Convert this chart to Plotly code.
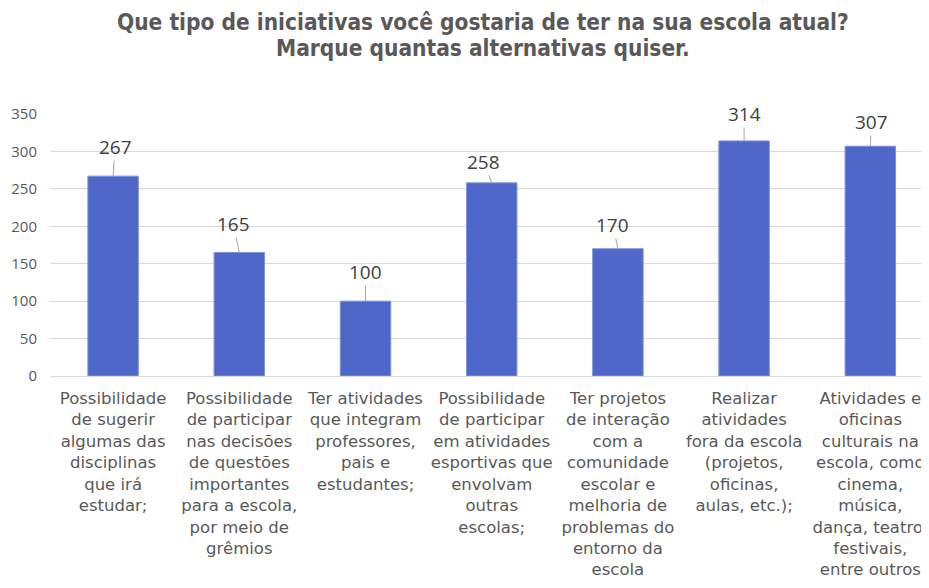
import plotly.graph_objects as go

categories = [
    "Possibilidade<br>de sugerir<br>algumas das<br>disciplinas<br>que irá<br>estudar;",
    "Possibilidade<br>de participar<br>nas decisões<br>de questões<br>importantes<br>para a escola,<br>por meio de<br>grêmios",
    "Ter atividades<br>que integram<br>professores,<br>pais e<br>estudantes;",
    "Possibilidade<br>de participar<br>em atividades<br>esportivas que<br>envolvam<br>outras<br>escolas;",
    "Ter projetos<br>de interação<br>com a<br>comunidade<br>escolar e<br>melhoria de<br>problemas do<br>entorno da<br>escola",
    "Realizar<br>atividades<br>fora da escola<br>(projetos,<br>oficinas,<br>aulas, etc.);",
    "Atividades e<br>oficinas<br>culturais na<br>escola, como<br>cinema,<br>música,<br>dança, teatro,<br>festivais,<br>entre outros",
]
values = [267, 165, 100, 258, 170, 314, 307]
y_ticks = [0, 50, 100, 150, 200, 250, 300, 350]
title_lines = ["Que tipo de iniciativas você gostaria de ter na sua escola atual?",
               "Marque quantas alternativas quiser."]

# label offsets (pixels) for leader-line callouts
label_dx = [2, -6, 0, -8, -5, 0, 1]
label_dy = [-29, -28, -29, -21, -24, -27, -24]

xs = list(range(len(categories)))

fig = go.Figure()
fig.add_trace(go.Bar(
    x=xs, y=values,
    marker=dict(color="#4E67C8", line=dict(color="#7F93DC", width=1)),
    width=0.4,
    hoverinfo="y",
))

for i, v in enumerate(values):
    fig.add_annotation(
        x=i, y=v, xref="x", yref="y",
        text=str(v), showarrow=True,
        ax=label_dx[i], ay=label_dy[i],
        arrowhead=0, arrowwidth=1, arrowcolor="#A6A6A6",
        standoff=0, startstandoff=0,
        font=dict(family="Open Sans", size=19, color="#404040"),
        borderpad=0,
    )

title_y = [1.3511, 1.2519]
for line, ty in zip(title_lines, title_y):
    fig.add_annotation(
        x=0.4926, y=ty, xref="paper", yref="paper",
        xanchor="center", yanchor="middle",
        text=line, showarrow=False,
        font=dict(family="DejaVu Sans Condensed", size=22.5, color="#595959", weight="bold"),
    )

fig.update_layout(
    width=921, height=580,
    margin=dict(l=42, r=0, t=106, b=212),
    paper_bgcolor="white", plot_bgcolor="white",
    showlegend=False,
    bargap=0.6,
)
fig.update_xaxes(
    tickmode="array", tickvals=xs, ticktext=categories,
    range=[-0.5, 6.465],
    tickangle=0,
    tickfont=dict(family="DejaVu Sans", size=16.5, color="#595959"),
    showline=True, linecolor="#D9D9D9", linewidth=1,
    showgrid=False, ticks="",
    ticklabelstandoff=7,
    ticklabeloverflow="allow",
)
fig.update_yaxes(
    range=[0, 350], tickvals=y_ticks,
    tickfont=dict(family="Open Sans", size=15, color="#595959"),
    showgrid=True, gridcolor="#D9D9D9", gridwidth=1,
    zeroline=False, showline=False, ticks="",
    ticklabelstandoff=12,
)

fig.write_html("out.html")
